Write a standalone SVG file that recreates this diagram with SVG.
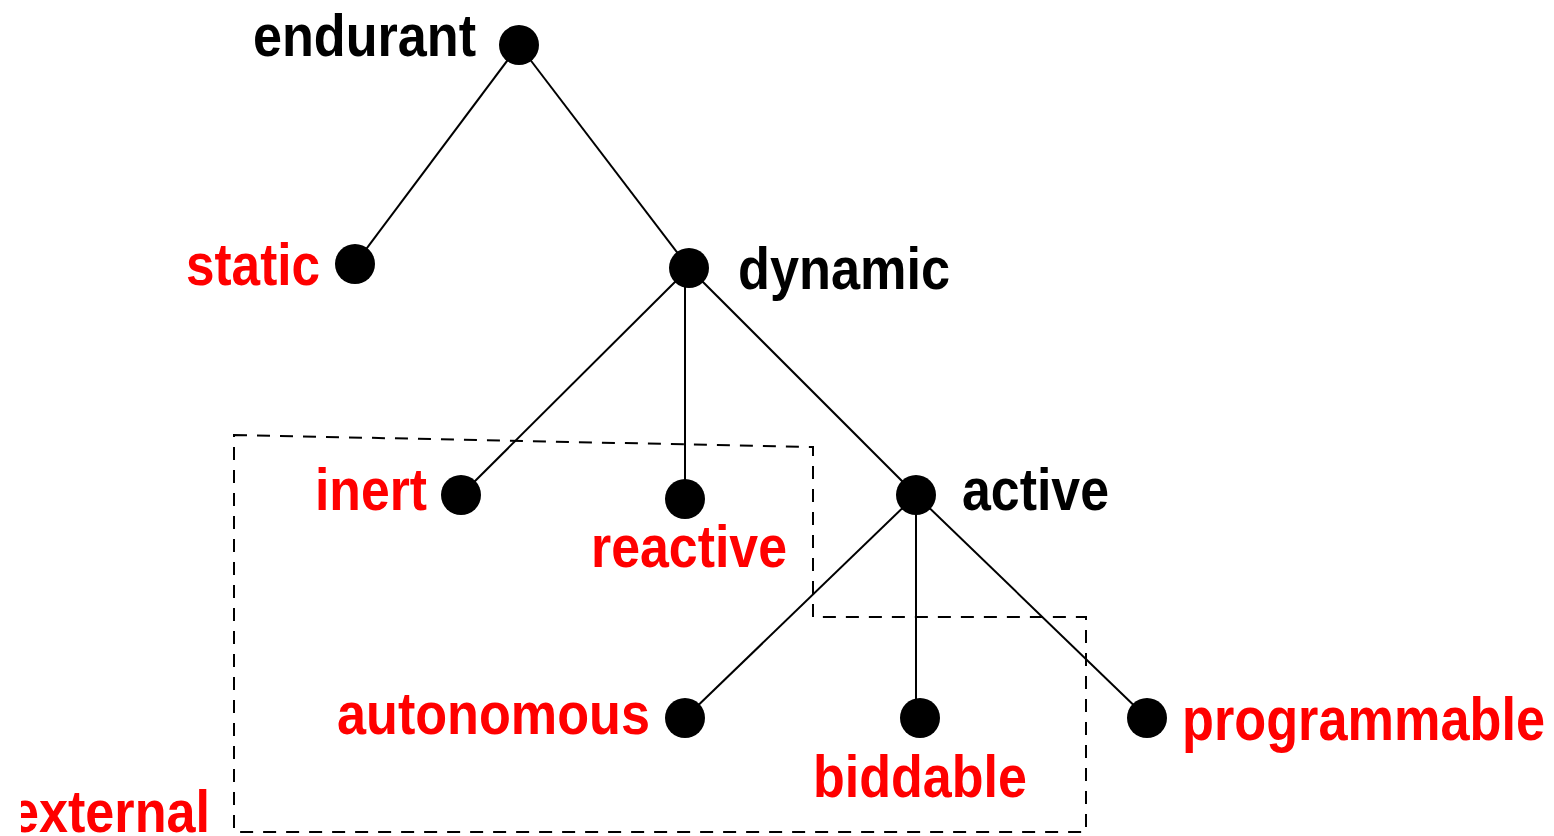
<svg xmlns="http://www.w3.org/2000/svg" width="1554" height="836" viewBox="0 0 1554 836">
<style>
.lbl{font-family:"Liberation Sans",Arial,sans-serif;font-weight:bold;font-size:60px}
.big{font-size:62px}
.blk{fill:#000}
.red{fill:#ff0000}
.edge{stroke:#000;stroke-width:2;fill:none}
.dash{stroke:#000;stroke-width:2;fill:none;stroke-dasharray:13 10}
.dot{fill:#000}
</style>
<defs>
<clipPath id="clipExt"><rect x="21" y="740" width="300" height="96"/></clipPath>
</defs>
<rect width="1554" height="836" fill="#fff"/>
<g id="region">
<path class="dash" d="M234,435 L813,447 L813,617 L1086,617 L1086,832 L234,832 Z"/>
</g>
<g id="connectors">
<line class="edge" x1="519" y1="45" x2="355" y2="264"/>
<line class="edge" x1="519" y1="45" x2="689" y2="268"/>
<line class="edge" x1="689" y1="268" x2="461" y2="495"/>
<line class="edge" x1="685" y1="270" x2="685" y2="499"/>
<line class="edge" x1="689" y1="268" x2="916" y2="495"/>
<line class="edge" x1="916" y1="495" x2="685" y2="718"/>
<line class="edge" x1="916" y1="495" x2="916" y2="718"/>
<line class="edge" x1="916" y1="495" x2="1147" y2="718"/>
</g>
<g id="endurant"><circle class="dot" cx="519" cy="45" r="20"/><text class="lbl blk" x="253" y="56" textLength="223" lengthAdjust="spacingAndGlyphs">endurant</text></g>
<g id="static"><circle class="dot" cx="355" cy="264" r="20"/><text class="lbl red" x="186" y="285" textLength="134" lengthAdjust="spacingAndGlyphs">static</text></g>
<g id="dynamic"><circle class="dot" cx="689" cy="268" r="20"/><text class="lbl blk" x="738" y="289" textLength="212" lengthAdjust="spacingAndGlyphs">dynamic</text></g>
<g id="inert"><circle class="dot" cx="461" cy="495" r="20"/><text class="lbl red" x="315" y="510" textLength="112" lengthAdjust="spacingAndGlyphs">inert</text></g>
<g id="reactive"><circle class="dot" cx="685" cy="499" r="20"/><text class="lbl red" x="591" y="567" textLength="196" lengthAdjust="spacingAndGlyphs">reactive</text></g>
<g id="active"><circle class="dot" cx="916" cy="495" r="20"/><text class="lbl blk" x="962" y="510" textLength="147" lengthAdjust="spacingAndGlyphs">active</text></g>
<g id="autonomous"><circle class="dot" cx="685" cy="718" r="20"/><text class="lbl red" x="337" y="734" textLength="313" lengthAdjust="spacingAndGlyphs">autonomous</text></g>
<g id="biddable"><circle class="dot" cx="920" cy="718" r="20"/><text class="lbl red" x="813" y="797" textLength="214" lengthAdjust="spacingAndGlyphs">biddable</text></g>
<g id="programmable"><circle class="dot" cx="1147" cy="718" r="20"/><text class="lbl big red" x="1182" y="740" textLength="363" lengthAdjust="spacingAndGlyphs">programmable</text></g>
<g id="external"><text class="lbl red" x="10" y="832" textLength="200" lengthAdjust="spacingAndGlyphs" clip-path="url(#clipExt)">external</text></g>
</svg>
